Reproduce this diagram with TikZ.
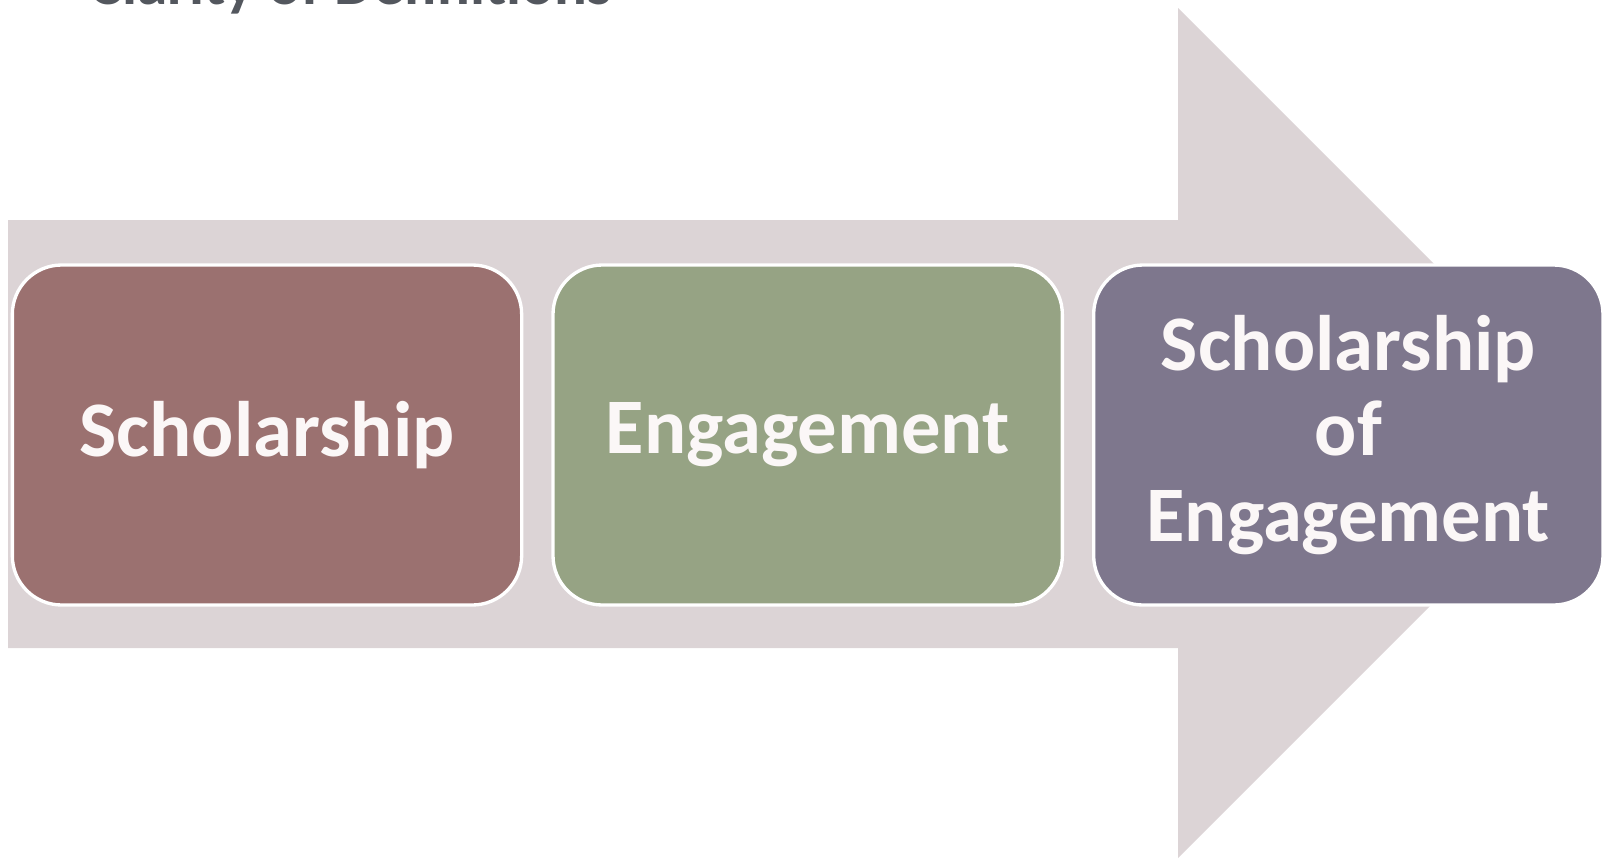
\documentclass[tikz,border=0pt]{standalone}
\usepackage{fontspec}
\setmainfont{Carlito}
\usepackage{tikz}
\usetikzlibrary{positioning}

\definecolor{arrowgray}{HTML}{DCD4D6}
\definecolor{rosebox}{HTML}{9B7170}
\definecolor{sagebox}{HTML}{96A384}
\definecolor{plumbox}{HTML}{7E778D}
\definecolor{boxtext}{HTML}{FBF7F7}
\definecolor{titlegray}{HTML}{53575E}

\begin{document}
\begin{tikzpicture}[x=0.75pt, y=-0.75pt, node distance=21pt,
                    main node/.style={rectangle,rounded corners=37pt,draw=white,line width=2.5pt,
                      minimum width=382pt,minimum height=255pt,inner sep=0pt,align=center,
                      text=boxtext,font=\fontsize{59}{64}\selectfont\bfseries}]

   \useasboundingbox (0,0) rectangle (1613,861);

   % big arrow behind
   \fill[arrowgray] (8,220) -- (1178,220) -- (1178,8) -- (1603,433)
      -- (1178,858) -- (1178,648) -- (8,648) -- cycle;

   \node[anchor=base west, text=titlegray, font=\fontsize{46}{52}\selectfont\bfseries]
      (title) at (85,4) {Clarity of Definitions};

   \node[main node, fill=rosebox] (1) at (267,435) {Scholarship};
   \node[main node, fill=sagebox] (2) [right=of 1] {Engagement};
   \node[main node, fill=plumbox] (3) [right=of 2] {Scholarship\\of\\Engagement};

\end{tikzpicture}
\end{document}
